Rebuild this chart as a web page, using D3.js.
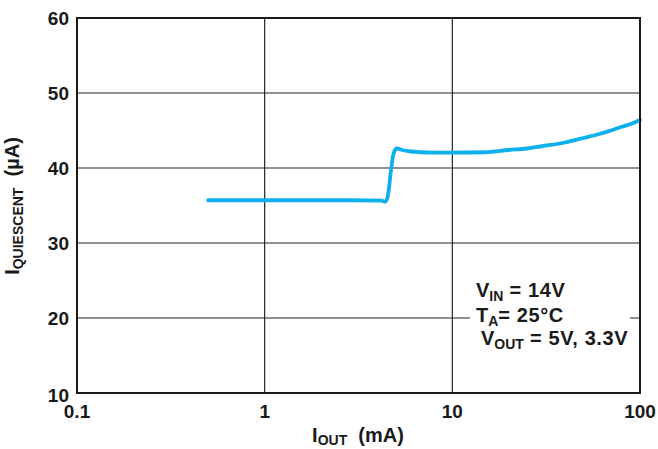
<!DOCTYPE html>
<html>
<head>
<meta charset="utf-8">
<script src="https://cdn.jsdelivr.net/npm/d3@7"></script>
<style>
  body { margin: 0; background: #fff; }
  text { font-family: "Liberation Sans", Arial, sans-serif; font-weight: bold; fill: #1a1a1a; }
</style>
</head>
<body>
<svg id="chart" width="658" height="449"></svg>
<script>
const iout = [0.5, 1, 2, 3, 4.2, 4.4, 4.55, 4.7, 4.85, 5.05, 5.4, 6.0, 6.8, 8, 10, 15, 20, 25, 30, 40, 50, 60, 70, 80, 90, 100]
const iq   = [35.7, 35.7, 35.7, 35.7, 35.65, 35.5, 36.5, 39.5, 41.8, 42.6, 42.4, 42.2, 42.1, 42.05, 42.05, 42.1, 42.4, 42.6, 42.9, 43.4, 44.0, 44.5, 45.0, 45.5, 45.9, 46.4]
const xTicks = [0.1, 1, 10, 100]
const xTickLabels = ['0.1', '1', '10', '100']
const yTicks = [10, 20, 30, 40, 50, 60]

const svg = d3.select('#chart')
const plotL = 77, plotR = 640, plotT = 18, plotB = 393

const x = d3.scaleLog().domain([0.1, 100]).range([plotL, plotR])
const y = d3.scaleLinear().domain([10, 60]).range([plotB, plotT])

// grid
svg.append('g')
  .selectAll('line')
  .data(xTicks.slice(1, -1))
  .join('line')
  .attr('x1', d => x(d)).attr('x2', d => x(d))
  .attr('y1', plotT).attr('y2', plotB)
  .attr('stroke', '#222').attr('stroke-width', 1.2)

svg.append('g')
  .selectAll('line')
  .data(yTicks.slice(1, -1))
  .join('line')
  .attr('x1', plotL).attr('x2', plotR)
  .attr('y1', d => y(d)).attr('y2', d => y(d))
  .attr('stroke', '#222').attr('stroke-width', 1.2)

// curve
const pts = iout.map((v, i) => [v, iq[i]])
svg.append('path')
  .datum(pts)
  .attr('fill', 'none')
  .attr('stroke', '#0bb0ec')
  .attr('stroke-width', 3.8)
  .attr('stroke-linejoin', 'round')
  .attr('stroke-linecap', 'round')
  .attr('d', d3.line().x(d => x(d[0])).y(d => y(d[1])).curve(d3.curveMonotoneX))

// annotation box (masks the grid line)
svg.append('rect')
  .attr('x', 470).attr('y', 270).attr('width', 160).attr('height', 82)
  .attr('fill', '#fff')

const notes = [
  { x: 476, y: 297, main: 'V', sub: 'IN', rest: ' = 14V' },
  { x: 476, y: 322, main: 'T', sub: 'A', rest: '= 25°C' },
  { x: 481, y: 345, main: 'V', sub: 'OUT', rest: ' = 5V, 3.3V' }
]
notes.forEach(n => {
  const t = svg.append('text').attr('x', n.x).attr('y', n.y).attr('font-size', 20)
  t.append('tspan').text(n.main)
  t.append('tspan').attr('font-size', 14).attr('dy', 4).text(n.sub)
  t.append('tspan').attr('dy', -4).attr('letter-spacing', 0.6).text(n.rest)
})

// frame
svg.append('rect')
  .attr('x', plotL).attr('y', plotT)
  .attr('width', plotR - plotL).attr('height', plotB - plotT)
  .attr('fill', 'none').attr('stroke', '#1a1a1a').attr('stroke-width', 2)

// tick labels
svg.append('g')
  .selectAll('text')
  .data(yTicks)
  .join('text')
  .attr('x', 69)
  .attr('y', d => y(d) + 7 + (d === 10 ? 2 : 0))
  .attr('text-anchor', 'end')
  .attr('font-size', 19)
  .text(d => d)

svg.append('g')
  .selectAll('text')
  .data(xTicks)
  .join('text')
  .attr('x', d => x(d))
  .attr('y', 418)
  .attr('text-anchor', 'middle')
  .attr('font-size', 19)
  .text((d, i) => xTickLabels[i])

// axis titles
const xt = svg.append('text').attr('x', 358).attr('y', 442).attr('text-anchor', 'middle').attr('font-size', 20)
xt.append('tspan').text('I')
xt.append('tspan').attr('font-size', 14).attr('dy', 3).text('OUT')
xt.append('tspan').attr('dy', -3).text('\u00a0 (mA)')

const yt = svg.append('text')
  .attr('transform', 'translate(19,206) rotate(-90)')
  .attr('text-anchor', 'middle').attr('font-size', 20)
yt.append('tspan').text('I')
yt.append('tspan').attr('font-size', 14).attr('dy', 4).text('QUIESCENT')
yt.append('tspan').attr('dy', -4).text('\u00a0 (µA)')
</script>
</body>
</html>
